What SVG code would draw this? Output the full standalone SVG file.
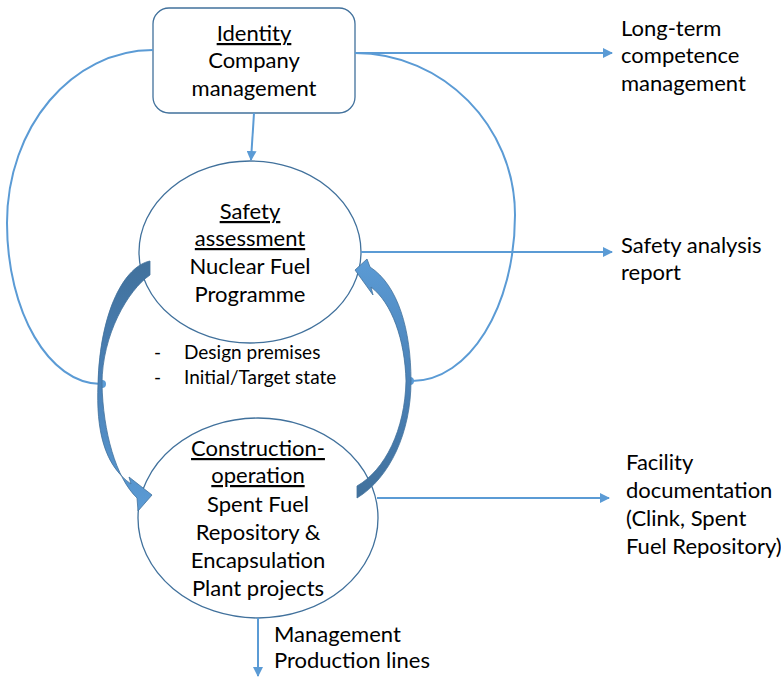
<svg xmlns="http://www.w3.org/2000/svg" width="781" height="677" viewBox="0 0 781 677">
  <style>
    .node { fill: #ffffff; stroke: #41719C; stroke-width: 1.3; }
    .lbl { font-family: Lato, "Liberation Sans", sans-serif; font-size: 22px; fill: #000000; }
    .small { font-size: 19px; }
    .mid { text-anchor: middle; }
    .u { text-decoration: underline; }
    .conn { fill: none; stroke: #5B9BD5; stroke-width: 2; }
    .dot { fill: #5B9BD5; }
    .block { stroke: #41719C; stroke-width: 0.8; }
  </style>
  <defs>
    <marker id="arrow" viewBox="0 0 10 10" refX="9" refY="5" markerWidth="5" markerHeight="5" orient="auto" markerUnits="strokeWidth">
      <path d="M0,0 L10,5 L0,10 Z" fill="#5B9BD5"/>
    </marker>
    <linearGradient id="gradDown" x1="0" y1="0" x2="0" y2="1">
      <stop offset="0" stop-color="#41719C"/>
      <stop offset="0.45" stop-color="#4A80B5"/>
      <stop offset="1" stop-color="#5B9BD5"/>
    </linearGradient>
    <linearGradient id="gradUp" x1="0" y1="1" x2="0" y2="0">
      <stop offset="0" stop-color="#41719C"/>
      <stop offset="0.45" stop-color="#4A80B5"/>
      <stop offset="1" stop-color="#5B9BD5"/>
    </linearGradient>
  </defs>

  <g id="identity">
    <rect class="node" x="153" y="8" width="202" height="105" rx="16" ry="16"/>
    <text class="lbl mid u" x="254" y="41">Identity</text>
    <text class="lbl mid" x="254" y="68">Company</text>
    <text class="lbl mid" x="254" y="96">management</text>
  </g>

  <g id="safety">
    <ellipse class="node" cx="250" cy="252" rx="111" ry="91"/>
    <text class="lbl mid u" x="250" y="219">Safety</text>
    <text class="lbl mid u" x="250" y="246">assessment</text>
    <text class="lbl mid" x="250" y="274">Nuclear Fuel</text>
    <text class="lbl mid" x="250" y="302">Programme</text>
  </g>

  <g id="premises">
    <text class="lbl small" x="154" y="359">-</text>
    <text class="lbl small" x="184" y="359">Design premises</text>
    <text class="lbl small" x="154" y="384">-</text>
    <text class="lbl small" x="184" y="384">Initial/Target state</text>
  </g>

  <g id="construction">
    <ellipse class="node" cx="258" cy="518" rx="120" ry="100"/>
    <text class="lbl mid u" x="258" y="456">Construction-</text>
    <text class="lbl mid u" x="258" y="483">operation</text>
    <text class="lbl mid" x="258" y="512">Spent Fuel</text>
    <text class="lbl mid" x="258" y="540">Repository &amp;</text>
    <text class="lbl mid" x="258" y="568">Encapsulation</text>
    <text class="lbl mid" x="258" y="596">Plant projects</text>
  </g>

  <g id="competence">
    <text class="lbl" x="621" y="36">Long-term</text>
    <text class="lbl" x="621" y="63">competence</text>
    <text class="lbl" x="621" y="91">management</text>
  </g>

  <g id="sar">
    <text class="lbl" x="621" y="253">Safety analysis</text>
    <text class="lbl" x="621" y="280">report</text>
  </g>

  <g id="facility">
    <text class="lbl" x="626" y="470">Facility</text>
    <text class="lbl" x="626" y="498">documentation</text>
    <text class="lbl" x="626" y="526">(Clink, Spent</text>
    <text class="lbl" x="626" y="554">Fuel Repository)</text>
  </g>

  <g id="production">
    <text class="lbl" x="274" y="642">Management</text>
    <text class="lbl" x="274" y="668">Production lines</text>
  </g>

  <!-- connectors, drawn over the nodes -->
  <g id="connectors">
    <!-- company management down to safety assessment -->
    <line class="conn" x1="254" y1="113" x2="251" y2="160" marker-end="url(#arrow)"/>
    <!-- outputs to the right -->
    <line class="conn" x1="355" y1="53" x2="612" y2="53" marker-end="url(#arrow)"/>
    <line class="conn" x1="361" y1="252" x2="612" y2="252" marker-end="url(#arrow)"/>
    <line class="conn" x1="377" y1="498" x2="609" y2="498" marker-end="url(#arrow)"/>
    <line class="conn" x1="258" y1="618" x2="258" y2="676" marker-end="url(#arrow)"/>
    <!-- feedback loops from company management -->
    <path class="conn" d="M153,50 C72,50 7,127 7,223 C7,312 49,384 101,384"/>
    <circle class="dot" cx="102" cy="384" r="4"/>
    <path class="conn" d="M355,53 C443,53 515,126 515,215 C515,307 469,381 412,381"/>
    <circle class="dot" cx="410" cy="381" r="4"/>
    <!-- curved block arrows between safety assessment and construction -->
    <path id="cycle-down" class="block" fill="url(#gradDown)"
          d="M150,261 C125,266 100,310 98,384 C96,430 104,465 131,484 L129,477 L152,495 L138,511 L137,498 C116,478 103,432 102,384 C102,335 128,290 150,275 Z"/>
    <path id="cycle-up" class="block" fill="url(#gradUp)"
          d="M357,486 C385,470 405,430 406,381 C405,340 392,303 371,287 L373,295 L355,270 L367,259 L370,267 C398,285 411,330 411,381 C411,432 390,478 357,498 Z"/>
  </g>
</svg>
